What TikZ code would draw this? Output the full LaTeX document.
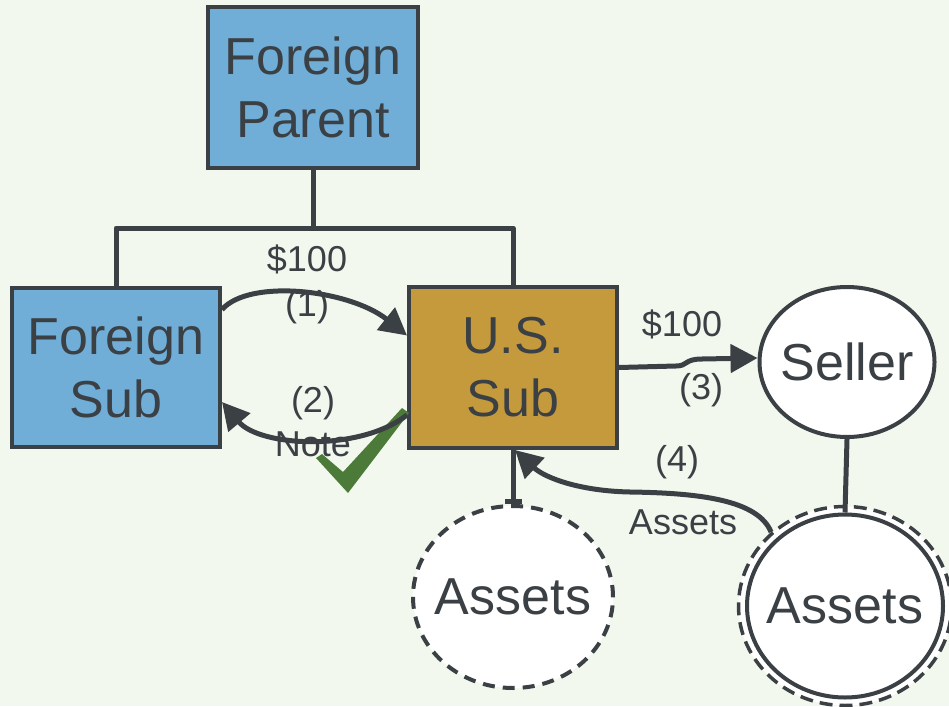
\documentclass[tikz,border=0pt]{standalone}
\usepackage{fontspec}
\setmainfont{Liberation Sans}
\usetikzlibrary{arrows.meta,shapes.geometric}
\definecolor{bg}{HTML}{F3F8EF}
\definecolor{ink}{HTML}{3B4045}
\definecolor{entblue}{HTML}{70AED8}
\definecolor{entgold}{HTML}{C49A3C}
\definecolor{okgreen}{HTML}{4C7A38}
\begin{document}
\begin{tikzpicture}[x=1pt,y=-1pt,
  bigtext/.style={text=ink, font=\fontsize{52}{63}\selectfont},
  entity/.style={draw=ink, line width=4pt, inner sep=0pt, align=center, bigtext},
  pool/.style={ellipse, draw=ink, fill=white, line width=4pt, inner sep=0pt},
  poolname/.style={label={[bigtext, inner sep=0pt]center:#1}},
  lbl/.style={inner sep=0pt, text=ink, font=\fontsize{36}{40}\selectfont},
  link/.style={draw=ink, line width=5pt},
  flow/.style={draw=ink, line width=5pt, -{Triangle[length=27pt,width=28pt]}}]

  % canvas
  \fill[bg] (0,0) rectangle (949,706);
  \useasboundingbox (0,0) rectangle (949,706);

  % entities
  \node[entity, fill=entblue, minimum width=210pt, minimum height=161pt]
    (fparent) at (313,87.5) {Foreign\\Parent};
  \node[entity, fill=entblue, minimum width=208pt, minimum height=159pt]
    (fsub) at (116,367.5) {Foreign\\Sub};
  \node[entity, fill=entgold, minimum width=208pt, minimum height=161pt]
    (ussub) at (513,367.5) {U.S.\\Sub};

  \node[pool, minimum width=175pt, minimum height=150pt, poolname=Seller]
    (seller) at (847,362) {};
  \node[pool, dash pattern=on 12pt off 8pt, minimum width=200pt, minimum height=182pt,
    poolname=Assets] (assetsA) at (513,597) {};
  \node[pool, line width=3.5pt, dash pattern=on 13pt off 7pt,
    minimum width=213pt, minimum height=199pt] (assetsBout) at (845,606) {};
  \node[pool, minimum width=196pt, minimum height=183pt, poolname=Assets]
    (assetsB) at (845,606) {};

  % ownership lines
  \coordinate (bus) at (313,228);
  \draw[link] (fparent.south) -- (bus);
  \draw[link, line join=round] (fsub.north) |- (bus) -| (ussub.north);
  \draw[link] (seller.south) -- (assetsB.north);
  \draw[link, -{Bar[width=17pt]}] (ussub.south) -- (assetsA.north);

  % approval mark
  \fill[okgreen] (316,458) -- (348,493) -- (409,413) -- (402,408)
    -- (343,472) -- (322,454) -- cycle;

  % flows
  \draw[flow] ([yshift=58pt]fsub.east)
    .. controls (250,278) and (350,290) .. ([yshift=32pt]ussub.west);
  \draw[flow] ([yshift=-47.5pt]ussub.west)
    .. controls (360,452) and (260,447) .. ([yshift=-34.5pt]fsub.east);
  \draw[flow] (ussub.east) -- (676,366)
    .. controls (688,366) and (684,359) .. (702,359) -- ([yshift=4pt]seller.west);
  \draw[flow] (assetsBout.135)
    .. controls (758,500) and (700,493) .. (630,492)
    .. controls (580,491) and (545,478) .. ([xshift=2pt]ussub.south);

  % flow labels
  \node[lbl] (l1a) at (307,259) {\$100};
  \node[lbl] (l1b) at (307,307) {(1)};
  \node[lbl] (l2a) at (313,403) {(2)};
  \node[lbl] (l2b) at (313,444) {Note};
  \node[lbl] (l3a) at (682,324) {\$100};
  \node[lbl] (l3b) at (701,390) {(3)};
  \node[lbl] (l4a) at (677,462) {(4)};
  \node[lbl] (l4b) at (683,522) {Assets};
\end{tikzpicture}
\end{document}
